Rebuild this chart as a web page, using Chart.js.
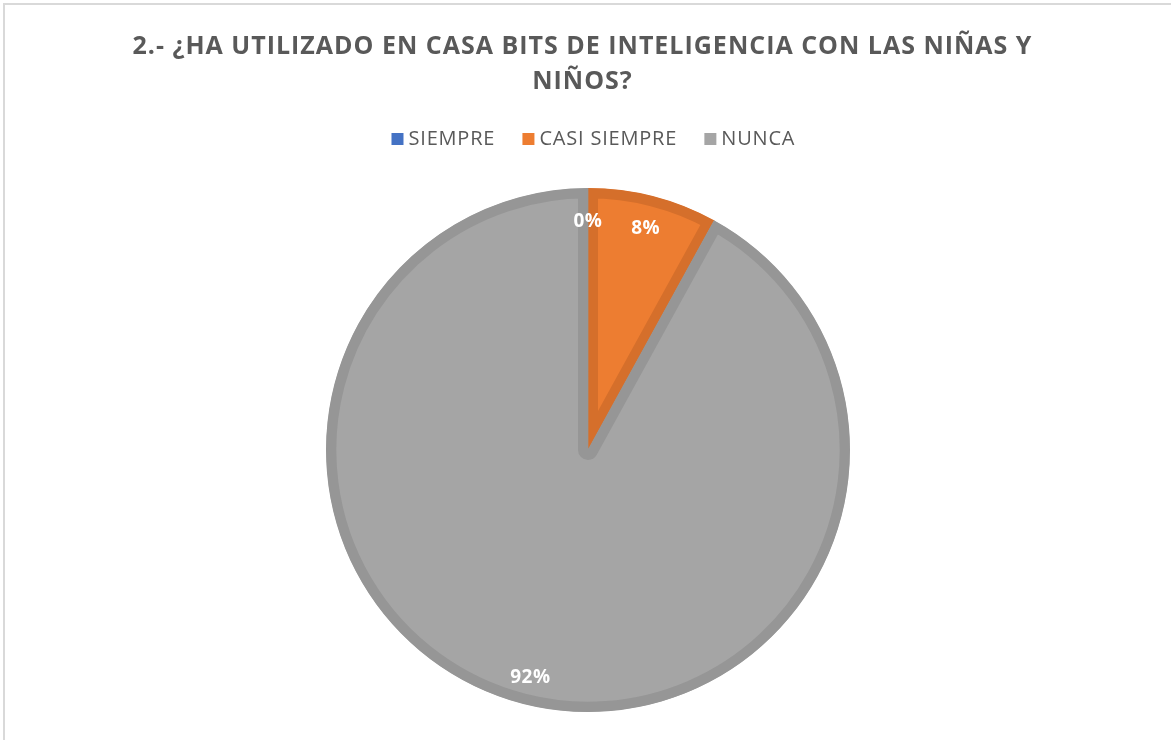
<!DOCTYPE html>
<html>
<head>
<meta charset="utf-8">
<script src="https://cdn.jsdelivr.net/npm/chart.js@4.4.1/dist/chart.umd.min.js"></script>
<style>
html,body{margin:0;padding:0;background:#fff;}
#wrap{position:relative;width:1171px;height:740px;}
</style>
</head>
<body>
<div id="wrap"><canvas id="c" width="1171" height="740"></canvas></div>
<script>
const titleLines = ["2.- ¿HA UTILIZADO EN CASA BITS DE INTELIGENCIA CON LAS NIÑAS Y", "NIÑOS?"];
const categories = ["SIEMPRE", "CASI SIEMPRE", "NUNCA"];
const values = [0, 8, 92];
const percentLabels = ["0%", "8%", "92%"];
const fillColors = ["#4472C4", "#ED7D31", "#A5A5A5"];
const edgeColors = ["#3B65B0", "#D56F2B", "#969696"];

const frame = {
  id: 'frame',
  beforeDraw(chart) {
    const ctx = chart.ctx;
    ctx.save();
    ctx.fillStyle = '#fff';
    ctx.fillRect(0, 0, chart.width, chart.height);
    ctx.strokeStyle = '#D9D9D9';
    ctx.lineWidth = 2;
    ctx.beginPath();
    ctx.moveTo(4, chart.height);
    ctx.lineTo(4, 4);
    ctx.lineTo(chart.width, 4);
    ctx.stroke();
    ctx.restore();
  }
};

const header = {
  id: 'header',
  afterDraw(chart) {
    const ctx = chart.ctx;
    ctx.save();
    ctx.textBaseline = 'alphabetic';
    ctx.textAlign = 'left';
    // title
    ctx.font = 'bold 25px "Open Sans", sans-serif';
    ctx.letterSpacing = '1px';
    ctx.fillStyle = '#595959';
    const titleBase = [54, 89];
    titleLines.forEach((line, i) => {
      const w = ctx.measureText(line).width - 1;
      ctx.fillText(line, 582 - w / 2, titleBase[i]);
    });
    // legend
    ctx.font = '20px "Open Sans", sans-serif';
    ctx.letterSpacing = '0.8px';
    const box = 12, gapBox = 5, gapItem = 28;
    const widths = categories.map(t => ctx.measureText(t).width - 0.8);
    let total = 0;
    widths.forEach((w, i) => { total += box + gapBox + w + (i < widths.length - 1 ? gapItem : 0); });
    let x = 593 - total / 2;
    const base = 145;
    categories.forEach((t, i) => {
      ctx.fillStyle = fillColors[i];
      ctx.fillRect(x, base - 12, box, box);
      ctx.fillStyle = '#595959';
      ctx.fillText(t, x + box + gapBox, base);
      x += box + gapBox + widths[i] + gapItem;
    });
    ctx.restore();
  }
};

const pctLabels = {
  id: 'pctLabels',
  afterDatasetsDraw(chart) {
    const ctx = chart.ctx;
    const meta = chart.getDatasetMeta(0);
    ctx.save();
    ctx.font = 'bold 19px "Open Sans", sans-serif';
    ctx.letterSpacing = '0.5px';
    ctx.fillStyle = '#FFFFFF';
    ctx.textAlign = 'center';
    ctx.textBaseline = 'middle';
    meta.data.forEach((arc, i) => {
      const p = arc.getProps(['x', 'y', 'startAngle', 'endAngle', 'outerRadius'], true);
      const mid = (p.startAngle + p.endAngle) / 2;
      const r = p.outerRadius * 0.885;
      ctx.fillText(percentLabels[i], p.x + Math.cos(mid) * r, p.y + Math.sin(mid) * r + 3);
    });
    ctx.restore();
  }
};

new Chart(document.getElementById('c'), {
  type: 'pie',
  data: {
    labels: categories,
    datasets: [{
      data: values,
      backgroundColor: fillColors,
      borderColor: edgeColors,
      borderWidth: 10,
      borderAlign: 'inner',
      hoverOffset: 0
    }]
  },
  options: {
    responsive: false,
    animation: false,
    events: [],
    layout: { padding: { top: 188, bottom: 28, left: 5, right: 0 } },
    plugins: {
      title: { display: false },
      legend: { display: false },
      tooltip: { enabled: false }
    }
  },
  plugins: [frame, header, pctLabels]
});
</script>
</body>
</html>
